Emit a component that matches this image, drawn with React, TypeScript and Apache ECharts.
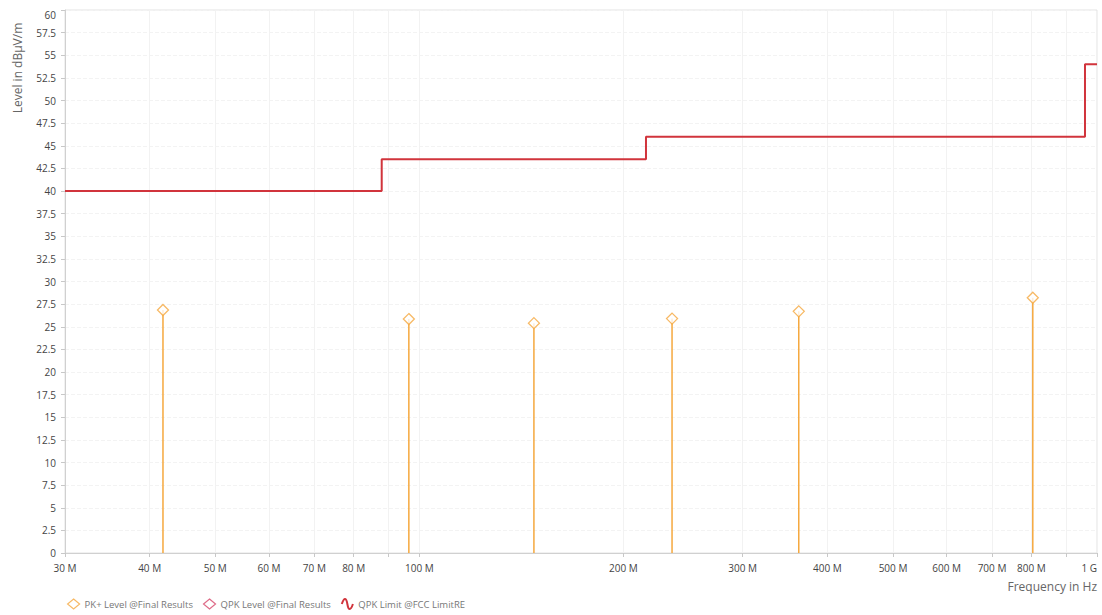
import React, { useEffect, useRef } from "react";
import * as echarts from "echarts";

const xTickFreqs = [30e6, 40e6, 50e6, 60e6, 70e6, 80e6, 90e6, 100e6, 200e6, 300e6, 400e6, 500e6, 600e6, 700e6, 800e6, 900e6, 1e9];
const xLabelFreqs = [30e6, 40e6, 50e6, 60e6, 70e6, 80e6, 100e6, 200e6, 300e6, 400e6, 500e6, 600e6, 700e6, 800e6, 1e9];
const pkFreqs = [41.85e6, 96.5e6, 147.6e6, 236e6, 363e6, 804e6];
const pkLevels = [26.85, 25.85, 25.4, 25.9, 26.7, 28.2];
const limitFreqs = [30e6, 88e6, 216e6, 960e6, 1e9];
const limitLevels = [40, 43.5, 46, 54, 54];

const FONT = "Open Sans";
const lg = (f: number) => Math.log10(f);
const fmtFreq = (f: number) => (f >= 1e9 ? `${Math.round(f / 1e9)} G` : `${Math.round(f / 1e6)} M`);

export default function App() {
  const ref = useRef<HTMLDivElement>(null);
  useEffect(() => {
    document.body.style.margin = "0";
    const chart = echarts.init(ref.current!, null, { renderer: "svg" });
    const labelMap: Record<string, string> = {};
    xLabelFreqs.forEach((f) => (labelMap[lg(f).toFixed(6)] = fmtFreq(f)));
    chart.setOption({
      animation: false,
      backgroundColor: "#ffffff",
      grid: { left: 65, right: 5, top: 10, bottom: 62, show: true, borderColor: "#e2e2e2", borderWidth: 1 },
      xAxis: {
        type: "value",
        min: lg(30e6),
        max: 9,
        axisLine: { show: true, lineStyle: { color: "#d0d0d0" } },
        axisTick: { show: true, length: 4, lineStyle: { color: "#c8c8c8" }, customValues: xTickFreqs.map(lg) },
        axisLabel: {
          customValues: xLabelFreqs.map(lg),
          formatter: (v: number) => labelMap[v.toFixed(6)] ?? "",
          fontFamily: FONT,
          fontSize: 10,
          color: "#444",
          margin: 10,
          alignMaxLabel: "right",
        },
        splitLine: { show: true, lineStyle: { color: "#f2f2f2", width: 1 } },
      },
      yAxis: {
        type: "value",
        min: 0,
        max: 60,
        interval: 2.5,
        axisLine: { show: true, lineStyle: { color: "#d0d0d0" } },
        axisTick: { show: true, length: 4, lineStyle: { color: "#c8c8c8" } },
        axisLabel: {
          fontFamily: FONT,
          fontSize: 10,
          color: "#444",
          margin: 9,
          formatter: (v: number) => (v === 60 ? "{t|60}" : String(v)),
          rich: { t: { fontFamily: FONT, fontSize: 10, color: "#444", padding: [10, 0, 0, 0] } },
        },
        splitLine: { show: true, lineStyle: { color: "#f3f3f3", type: "dashed", width: 1 } },
      },
      legend: {
        left: 62,
        bottom: 0,
        itemWidth: 12,
        itemHeight: 10,
        itemGap: 10,
        textStyle: { fontFamily: FONT, fontSize: 9.5, color: "#777" },
        data: [
          { name: "PK+ Level @Final Results", icon: "diamond", itemStyle: { color: "#ffffff", borderColor: "#f5a83e", borderWidth: 1.2 } },
          { name: "QPK Level @Final Results", icon: "diamond", itemStyle: { color: "#ffffff", borderColor: "#d6466a", borderWidth: 1.2 } },
          {
            name: "QPK Limit @FCC LimitRE",
            icon: "path://M0,4 C2,-2 4,-2 5,4 C6,10 8,10 10,4",
            itemStyle: { color: "transparent", borderColor: "#d1343c", borderWidth: 2 },
          },
        ],
      },
      graphic: [
        {
          type: "text",
          x: 17,
          y: 68,
          rotation: Math.PI / 2,
          style: { text: "Level in dBµV/m", fontFamily: FONT, fontSize: 12, fill: "#666", align: "center", verticalAlign: "middle" },
        },
        {
          type: "text",
          right: 5,
          top: 580,
          style: { text: "Frequency in Hz", fontFamily: FONT, fontSize: 12, fill: "#666" },
        },
      ],
      series: [
        {
          name: "QPK Limit @FCC LimitRE",
          type: "line",
          step: "end",
          symbol: "none",
          lineStyle: { color: "#d1343c", width: 2 },
          itemStyle: { color: "#d1343c" },
          data: limitFreqs.map((f, i) => [lg(f), limitLevels[i]]),
          z: 3,
        },
        {
          name: "PK+ stems",
          type: "custom",
          silent: true,
          renderItem: (_p: any, api: any) => {
            const a = api.coord([api.value(0), 0]);
            const b = api.coord([api.value(0), api.value(1)]);
            return { type: "line", shape: { x1: a[0], y1: a[1], x2: b[0], y2: b[1] }, style: { stroke: "#f5a83e", lineWidth: 1.5 } };
          },
          data: pkFreqs.map((f, i) => [lg(f), pkLevels[i]]),
          z: 2,
        },
        {
          name: "PK+ Level @Final Results",
          type: "scatter",
          symbol: "diamond",
          symbolSize: 11,
          itemStyle: { color: "#ffffff", borderColor: "#f5a83e", borderWidth: 1.3 },
          data: pkFreqs.map((f, i) => [lg(f), pkLevels[i]]),
          z: 4,
        },
        {
          name: "QPK Level @Final Results",
          type: "scatter",
          symbol: "diamond",
          itemStyle: { color: "#ffffff", borderColor: "#d6466a", borderWidth: 1.2 },
          data: [],
        },
      ],
    });
    return () => chart.dispose();
  }, []);
  return <div ref={ref} style={{ width: 1102, height: 615 }} />;
}
